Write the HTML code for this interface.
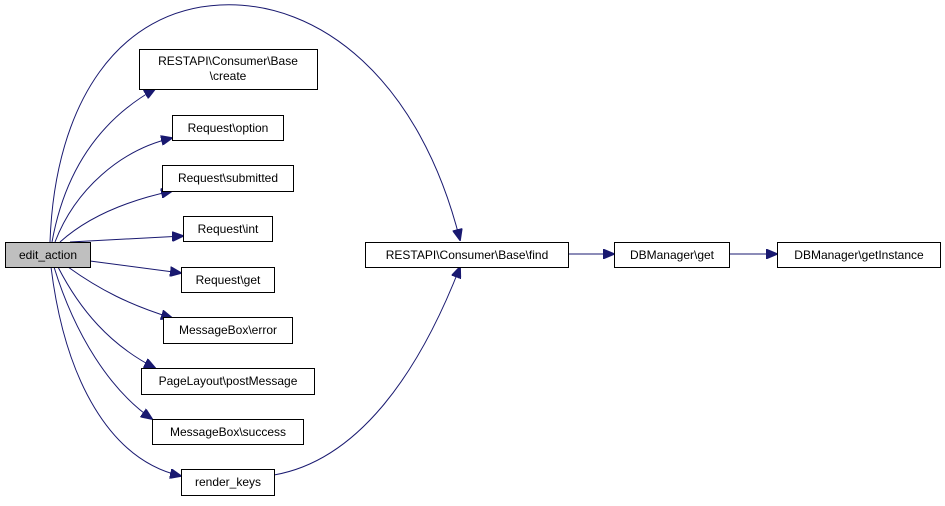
<!DOCTYPE html>
<html><head><meta charset="utf-8"><style>body{margin:0;background:#fff}</style></head><body>
<svg width="945" height="501" viewBox="0 0 945 501" xmlns="http://www.w3.org/2000/svg" font-family="Liberation Sans, sans-serif" font-size="12">
<defs><marker id="a" markerWidth="12" markerHeight="10" refX="11" refY="5" orient="auto" markerUnits="userSpaceOnUse"><path d="M0,0L12,5L0,10z" fill="#191970" stroke="#191970"/></marker></defs>
<g fill="none" stroke="#191970" stroke-width="1" marker-end="url(#a)">
<path d="M50,242 C55,100 120,10 220,5 C320,0 420,80 460,240"/>
<path d="M52,242 C65,170 100,120 155,89"/>
<path d="M55,242 C75,190 120,150 172,138"/>
<path d="M60,242 C90,215 130,200 172,191"/>
<path d="M70,242 L183,236"/>
<path d="M90,261 L181,273"/>
<path d="M68,267 C100,290 130,305 172,318"/>
<path d="M58,267 C80,310 110,345 155,368"/>
<path d="M54,267 C75,335 110,390 152,419"/>
<path d="M51,267 C65,380 110,460 181,476"/>
<path d="M274,475 C360,460 420,370 460,267"/>
<path d="M569,254 L614,254"/>
<path d="M729,254 L777,254"/>
</g>
<g stroke-width="1">
<rect x="5.5" y="242.5" width="85" height="25" fill="#bfbfbf" stroke="#000"/>
<rect x="139.5" y="49.5" width="178" height="40" fill="#fff" stroke="#000"/>
<rect x="172.5" y="115.5" width="111" height="25" fill="#fff" stroke="#000"/>
<rect x="162.5" y="165.5" width="131" height="26" fill="#fff" stroke="#000"/>
<rect x="183.5" y="216.5" width="89" height="25" fill="#fff" stroke="#000"/>
<rect x="181.5" y="267.5" width="93" height="25" fill="#fff" stroke="#000"/>
<rect x="163.5" y="317.5" width="129" height="26" fill="#fff" stroke="#000"/>
<rect x="141.5" y="368.5" width="173" height="26" fill="#fff" stroke="#000"/>
<rect x="152.5" y="419.5" width="151" height="25" fill="#fff" stroke="#000"/>
<rect x="181.5" y="469.5" width="93" height="26" fill="#fff" stroke="#000"/>
<rect x="365.5" y="242.5" width="203" height="25" fill="#fff" stroke="#000"/>
<rect x="614.5" y="242.5" width="115" height="25" fill="#fff" stroke="#000"/>
<rect x="777.5" y="242.5" width="163" height="25" fill="#fff" stroke="#000"/>
</g>
<g text-anchor="middle" fill="#000">
<text x="48" y="259">edit_action</text>
<text x="228" y="65">RESTAPI\Consumer\Base</text>
<text x="228" y="80">\create</text>
<text x="228" y="132">Request\option</text>
<text x="228" y="182">Request\submitted</text>
<text x="228" y="233">Request\int</text>
<text x="228" y="284">Request\get</text>
<text x="228" y="334">MessageBox\error</text>
<text x="228" y="385">PageLayout\postMessage</text>
<text x="228" y="436">MessageBox\success</text>
<text x="228" y="486">render_keys</text>
<text x="467" y="259">RESTAPI\Consumer\Base\find</text>
<text x="672" y="259">DBManager\get</text>
<text x="859" y="259">DBManager\getInstance</text>
</g>
</svg>
</body></html>
